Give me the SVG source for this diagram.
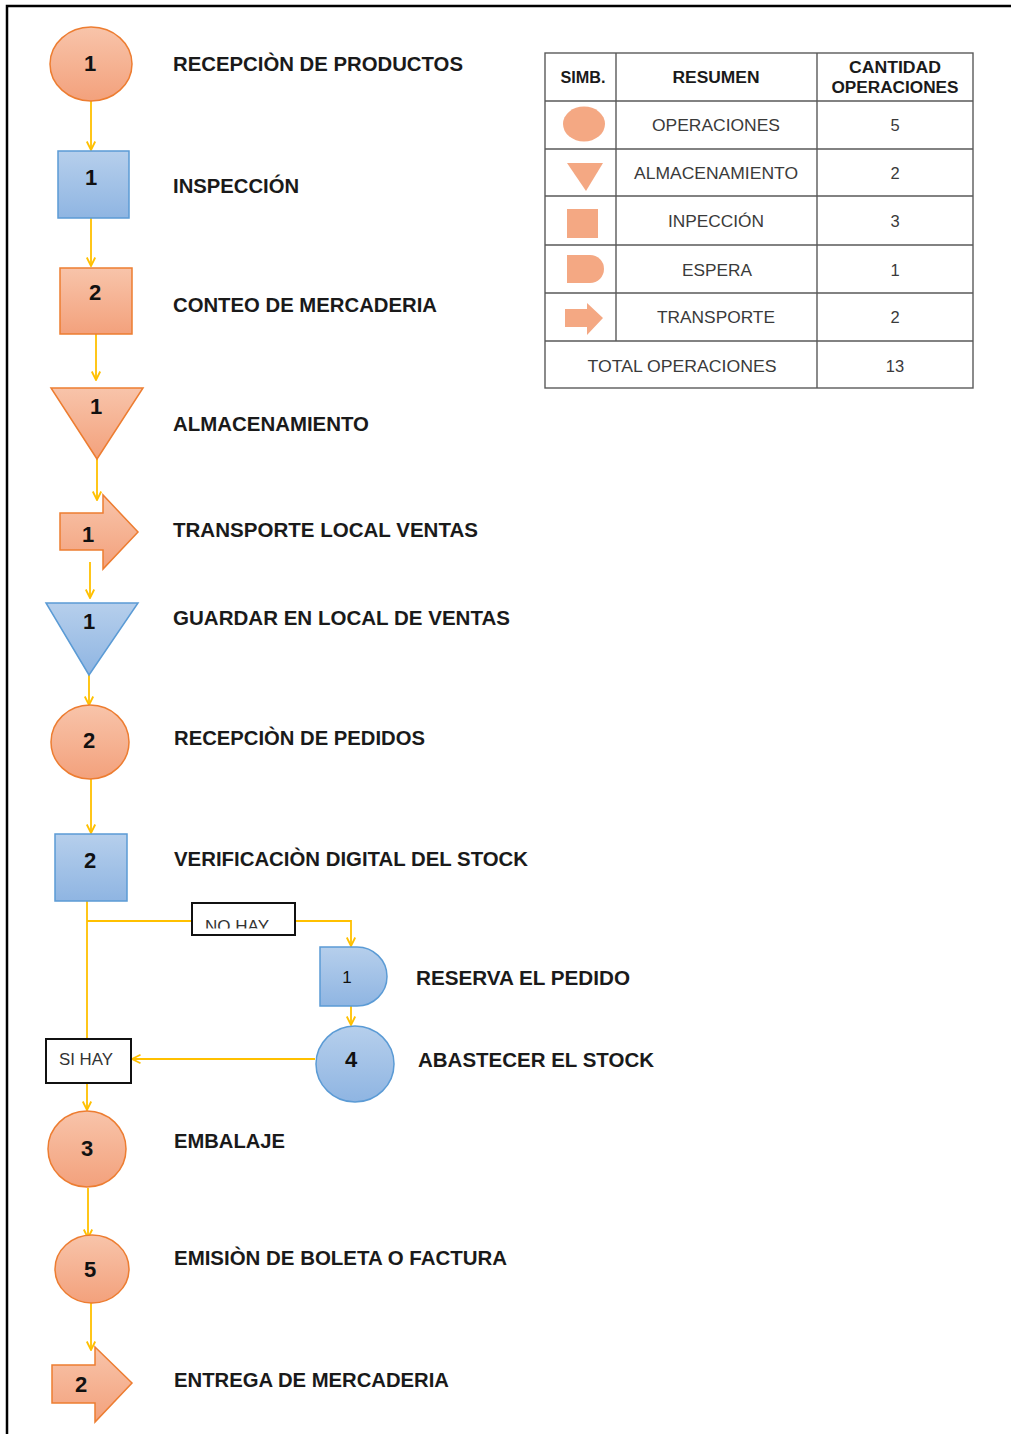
<svg xmlns="http://www.w3.org/2000/svg" width="1011" height="1434" viewBox="0 0 1011 1434">
<defs>
<linearGradient id="gO" x1="0" y1="0" x2="0" y2="1"><stop offset="0" stop-color="#F8C4AA"/><stop offset="1" stop-color="#F3A17C"/></linearGradient>
<linearGradient id="gB" x1="0" y1="0" x2="0" y2="1"><stop offset="0" stop-color="#B6CFEC"/><stop offset="1" stop-color="#8FB5E2"/></linearGradient>
<marker id="ah" viewBox="0 0 10 10" refX="9.5" refY="5" markerWidth="10" markerHeight="11" markerUnits="userSpaceOnUse" orient="auto">
<path d="M1,0.8 L9.5,5 L1,9.2" fill="none" stroke="#FFC000" stroke-width="1.8"/>
</marker>
<clipPath id="clipNo"><rect x="193" y="904" width="100" height="24.5"/></clipPath>
<style>
.o{fill:url(#gO);stroke:#ED7D31;stroke-width:1.5}
.b{fill:url(#gB);stroke:#5B9BD5;stroke-width:1.5}
.n{font-family:"Liberation Sans",Arial,sans-serif;font-weight:bold;font-size:22px;fill:#111;text-anchor:middle}
.lbl{font-family:"Liberation Sans",Arial,sans-serif;font-weight:bold;font-size:21px;fill:#1a1a1a}
.c{fill:none;stroke:#FFC000;stroke-width:1.8}
.ca{fill:none;stroke:#FFC000;stroke-width:1.8;marker-end:url(#ah)}
.tl{fill:none;stroke:#5a5a5a;stroke-width:1.4}
.th{font-family:"Liberation Sans",Arial,sans-serif;font-weight:bold;font-size:16px;fill:#1a1a1a;text-anchor:middle}
.tb{font-family:"Liberation Sans",Arial,sans-serif;font-size:16.5px;fill:#3a3a3a;text-anchor:middle}
.sym{fill:#F4A883}
.box{fill:#fff;stroke:#111;stroke-width:2}
.bt{font-family:"Liberation Sans",Arial,sans-serif;font-size:16px;fill:#333}
</style>
</defs>
<rect width="1011" height="1434" fill="#fff"/>
<path d="M7,1434 V6 H1011" fill="none" stroke="#000" stroke-width="2.5"/>

<g id="connectors">
<path class="ca" d="M91,101 V150"/>
<path class="ca" d="M91,218 V266"/>
<path class="ca" d="M96,334 V380"/>
<path class="ca" d="M97,459 V500"/>
<path class="ca" d="M90,562 V598"/>
<path class="ca" d="M89,675 V705"/>
<path class="ca" d="M91,779 V833"/>
<path class="c" d="M87,901 V1038"/>
<path class="c" d="M87,921 H191"/>
<path class="ca" d="M295,921 H351 V946"/>
<path class="ca" d="M351,1006 V1025"/>
<path class="ca" d="M315,1059 H132"/>
<path class="ca" d="M87,1083 V1110"/>
<path class="ca" d="M88,1188 V1238"/>
<path class="ca" d="M91,1303 V1350"/>
</g>

<g id="n1">
<ellipse class="o" cx="91" cy="64" rx="41" ry="37"/>
<text class="n" x="90" y="71">1</text>
<text class="lbl" x="173" y="71" textLength="290" lengthAdjust="spacingAndGlyphs">RECEPCIÒN DE PRODUCTOS</text>
</g>
<g id="n2">
<rect class="b" x="58" y="151" width="71" height="67"/>
<text class="n" x="91" y="185">1</text>
<text class="lbl" x="173" y="193" textLength="126" lengthAdjust="spacingAndGlyphs">INSPECCIÓN</text>
</g>
<g id="n3">
<rect class="o" x="60" y="268" width="72" height="66"/>
<text class="n" x="95" y="300">2</text>
<text class="lbl" x="173" y="312" textLength="264" lengthAdjust="spacingAndGlyphs">CONTEO DE MERCADERIA</text>
</g>
<g id="n4">
<polygon class="o" points="51,388 143,388 97,459"/>
<text class="n" x="96" y="414">1</text>
<text class="lbl" x="173" y="431" textLength="196" lengthAdjust="spacingAndGlyphs">ALMACENAMIENTO</text>
</g>
<g id="n5">
<polygon class="o" points="60,513 103,513 103,495 138,532 103,569 103,550 60,550"/>
<text class="n" x="88" y="542">1</text>
<text class="lbl" x="173" y="537" textLength="305" lengthAdjust="spacingAndGlyphs">TRANSPORTE LOCAL VENTAS</text>
</g>
<g id="n6">
<polygon class="b" points="46,603 138,603 89,675"/>
<text class="n" x="89" y="629">1</text>
<text class="lbl" x="173" y="625" textLength="337" lengthAdjust="spacingAndGlyphs">GUARDAR EN LOCAL DE VENTAS</text>
</g>
<g id="n7">
<ellipse class="o" cx="90" cy="742" rx="39" ry="37"/>
<text class="n" x="89" y="748">2</text>
<text class="lbl" x="174" y="745" textLength="251" lengthAdjust="spacingAndGlyphs">RECEPCIÒN DE PEDIDOS</text>
</g>
<g id="n8">
<rect class="b" x="55" y="834" width="72" height="67"/>
<text class="n" x="90" y="868">2</text>
<text class="lbl" x="174" y="866" textLength="354" lengthAdjust="spacingAndGlyphs">VERIFICACIÒN DIGITAL DEL STOCK</text>
</g>
<g id="noHay">
<rect class="box" x="192" y="903" width="103" height="32"/>
<text class="bt" x="205" y="932" clip-path="url(#clipNo)" textLength="64" lengthAdjust="spacingAndGlyphs" font-size="17">NO HAY</text>
</g>
<g id="n9">
<path class="b" d="M320,947 H357 A30,29.5 0 0 1 357,1006 H320 Z"/>
<text class="n" x="347" y="983" style="font-weight:normal;font-size:17px">1</text>
<text class="lbl" x="416" y="985" textLength="214" lengthAdjust="spacingAndGlyphs">RESERVA EL PEDIDO</text>
</g>
<g id="n10">
<ellipse class="b" cx="355" cy="1064" rx="39" ry="38"/>
<text class="n" x="351" y="1067">4</text>
<text class="lbl" x="418" y="1067" textLength="236" lengthAdjust="spacingAndGlyphs">ABASTECER EL STOCK</text>
</g>
<g id="siHay">
<rect class="box" x="46" y="1039" width="85" height="44"/>
<text class="bt" x="59" y="1065" textLength="54" lengthAdjust="spacingAndGlyphs">SI HAY</text>
</g>
<g id="n11">
<ellipse class="o" cx="87" cy="1149" rx="39" ry="38"/>
<text class="n" x="87" y="1156">3</text>
<text class="lbl" x="174" y="1148" textLength="111" lengthAdjust="spacingAndGlyphs">EMBALAJE</text>
</g>
<g id="n12">
<ellipse class="o" cx="92" cy="1269" rx="37" ry="34"/>
<text class="n" x="90" y="1277">5</text>
<text class="lbl" x="174" y="1265" textLength="333" lengthAdjust="spacingAndGlyphs">EMISIÒN DE BOLETA O FACTURA</text>
</g>
<g id="n13">
<polygon class="o" points="52,1365 95,1365 95,1347 132,1383 95,1422 95,1403 52,1403"/>
<text class="n" x="81" y="1392">2</text>
<text class="lbl" x="174" y="1387" textLength="275" lengthAdjust="spacingAndGlyphs">ENTREGA DE MERCADERIA</text>
</g>

<g id="table">
<rect class="tl" x="545" y="53" width="428" height="335"/>
<path class="tl" d="M616,53 V341 M817,53 V388 M545,101 H973 M545,149 H973 M545,196 H973 M545,245 H973 M545,293 H973 M545,341 H973"/>
<text class="th" x="583" y="83" textLength="45" lengthAdjust="spacingAndGlyphs">SIMB.</text>
<text class="th" x="716" y="83" textLength="87" lengthAdjust="spacingAndGlyphs">RESUMEN</text>
<text class="th" x="895" y="73" textLength="92" lengthAdjust="spacingAndGlyphs">CANTIDAD</text>
<text class="th" x="895" y="93" textLength="127" lengthAdjust="spacingAndGlyphs">OPERACIONES</text>
<ellipse class="sym" cx="584" cy="124" rx="21" ry="17.5"/>
<polygon class="sym" points="567,163 603,163 586,191"/>
<rect class="sym" x="567" y="209" width="31" height="29"/>
<path class="sym" d="M567,255 H590 A14,14 0 0 1 590,283 H567 Z"/>
<polygon class="sym" points="565,309 587,309 587,303 603,318 587,335 587,327 565,327"/>
<text class="tb" x="716" y="131" textLength="128" lengthAdjust="spacingAndGlyphs">OPERACIONES</text>
<text class="tb" x="716" y="179" textLength="164" lengthAdjust="spacingAndGlyphs">ALMACENAMIENTO</text>
<text class="tb" x="716" y="227" textLength="96" lengthAdjust="spacingAndGlyphs">INPECCIÓN</text>
<text class="tb" x="717" y="276" textLength="70" lengthAdjust="spacingAndGlyphs">ESPERA</text>
<text class="tb" x="716" y="323" textLength="118" lengthAdjust="spacingAndGlyphs">TRANSPORTE</text>
<text class="tb" x="682" y="372" textLength="189" lengthAdjust="spacingAndGlyphs">TOTAL OPERACIONES</text>
<text class="tb" x="895" y="131">5</text>
<text class="tb" x="895" y="179">2</text>
<text class="tb" x="895" y="227">3</text>
<text class="tb" x="895" y="276">1</text>
<text class="tb" x="895" y="323">2</text>
<text class="tb" x="895" y="372">13</text>
</g>
</svg>
